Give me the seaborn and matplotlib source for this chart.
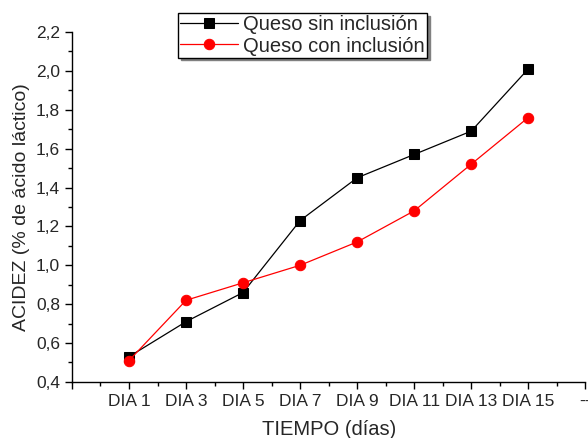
import seaborn as sns
import matplotlib.pyplot as plt
import pandas as pd
from matplotlib.ticker import MultipleLocator, FuncFormatter

# datos
dias = ["DIA 1", "DIA 3", "DIA 5", "DIA 7", "DIA 9", "DIA 11", "DIA 13", "DIA 15"]
sin_inclusion = [0.53, 0.71, 0.86, 1.23, 1.45, 1.57, 1.69, 2.01]
con_inclusion = [0.51, 0.82, 0.91, 1.00, 1.12, 1.28, 1.52, 1.76]
etiquetas_x = [""] + dias + ["--"]

sns.set_theme(style="ticks")
plt.rcParams['font.family'] = ['Liberation Sans', 'DejaVu Sans']

pos = list(range(1, len(dias) + 1))
df = pd.DataFrame({
    "pos": pos * 2,
    "acidez": sin_inclusion + con_inclusion,
    "serie": ["Queso sin inclusión"] * len(dias) + ["Queso con inclusión"] * len(dias),
})

fig = plt.figure(figsize=(5.88, 4.38), dpi=100)
ax = fig.add_axes([0.1224, 0.128, 0.873, 0.799])

sns.lineplot(data=df[df.serie == "Queso sin inclusión"], x="pos", y="acidez",
             color="black", marker="s", markersize=6.5, linewidth=0.9,
             markeredgecolor="black", label="Queso sin inclusión", ax=ax)
sns.lineplot(data=df[df.serie == "Queso con inclusión"], x="pos", y="acidez",
             color="red", marker="o", markersize=7.5, linewidth=0.9,
             markeredgecolor="red", label="Queso con inclusión", ax=ax)

ax.set_xlim(0, 9)
ax.set_ylim(0.4, 2.2)
ax.set_xticks(range(len(etiquetas_x)))
ax.set_xticklabels(etiquetas_x, fontsize=12.5)
ax.xaxis.set_minor_locator(MultipleLocator(0.5))
ax.yaxis.set_major_locator(MultipleLocator(0.2))
ax.yaxis.set_minor_locator(MultipleLocator(0.1))
ax.yaxis.set_major_formatter(FuncFormatter(lambda v, p: f"{v:.1f}".replace(".", ",")))
ax.tick_params(axis="y", labelsize=12.5)
ax.tick_params(which="major", length=5, width=1, color="black")
ax.tick_params(which="minor", length=3, width=1, color="black")

sns.despine(ax=ax)
for s in ["left", "bottom"]:
    ax.spines[s].set_color("black")
    ax.spines[s].set_linewidth(1)

ax.set_xlabel("TIEMPO (días)", fontsize=14.5, labelpad=8)
ax.set_ylabel("ACIDEZ (% de ácido láctico)", fontsize=14)

leg = ax.legend(loc="upper left", bbox_to_anchor=(0.2066, 1.054), fontsize=14.5,
                frameon=True, fancybox=False,
                shadow={"color": "gray", "alpha": 1},
                borderpad=0.1, labelspacing=0.12, handlelength=2.9,
                handletextpad=0.25, borderaxespad=0)
leg.get_frame().set_edgecolor("black")
leg.get_frame().set_linewidth(1)
leg.get_frame().set_alpha(1)

fig.savefig("out.png", dpi=100)
